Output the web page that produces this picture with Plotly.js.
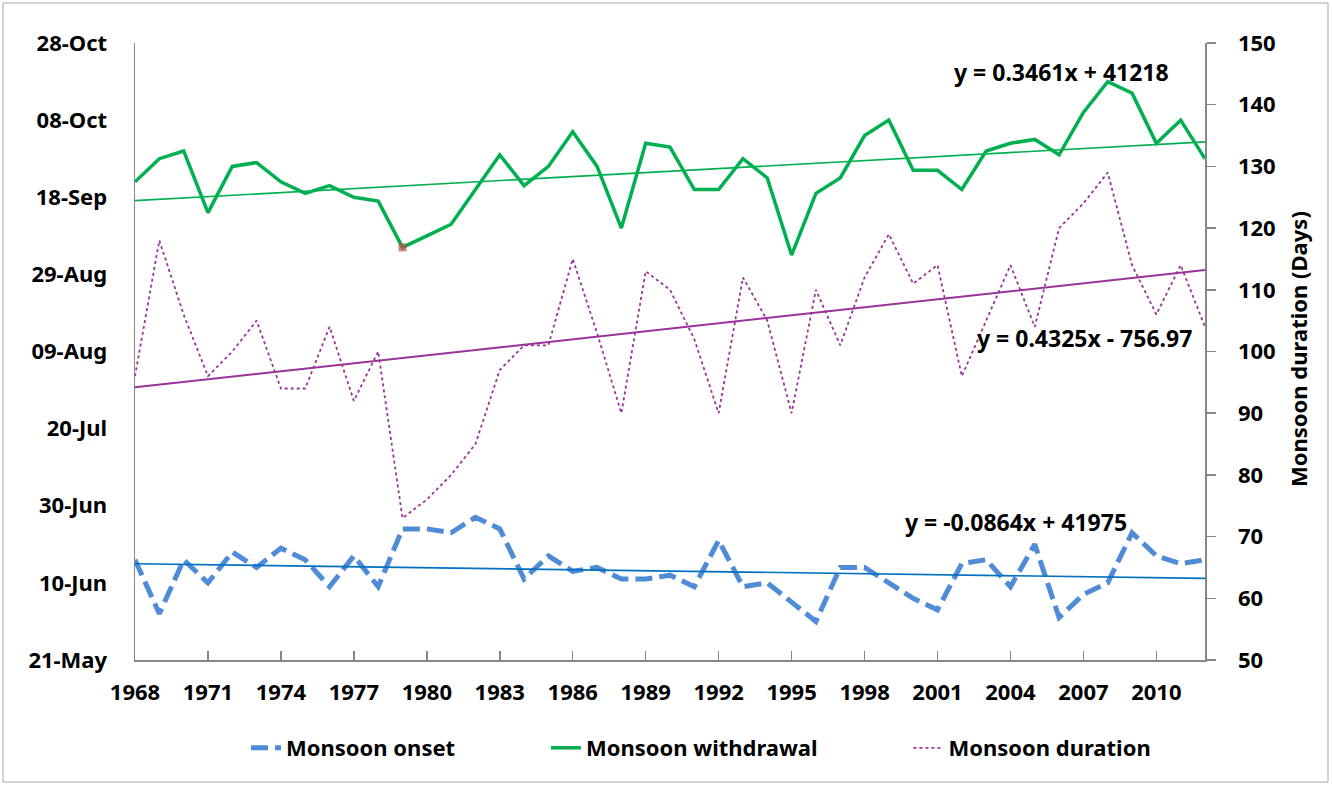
<!DOCTYPE html>
<html><head><meta charset="utf-8">
<script src="https://cdn.plot.ly/plotly-3.0.1.min.js"></script>
<style>html,body{margin:0;padding:0;background:#fff}</style>
</head><body><div id="chart" style="width:1332px;height:785px"></div>
<script>
const years = [1968,1969,1970,1971,1972,1973,1974,1975,1976,1977,1978,1979,1980,1981,1982,1983,1984,1985,1986,1987,1988,1989,1990,
  1991,1992,1993,1994,1995,1996,1997,1998,1999,2000,2001,2002,2003,2004,2005,2006,2007,2008,2009,2010,2011,2012];

// Monsoon onset dates (plotted on a common year)
const onsetDates = ['2014-06-16','2014-06-02','2014-06-16','2014-06-10','2014-06-18','2014-06-14','2014-06-19','2014-06-16','2014-06-09','2014-06-17',
  '2014-06-09','2014-06-24','2014-06-24','2014-06-23','2014-06-27','2014-06-24','2014-06-11','2014-06-17','2014-06-13','2014-06-14',
  '2014-06-11','2014-06-11','2014-06-12','2014-06-09','2014-06-21','2014-06-09','2014-06-10','2014-06-05','2014-05-31','2014-06-14',
  '2014-06-14','2014-06-10','2014-06-06','2014-06-03','2014-06-15','2014-06-16','2014-06-09','2014-06-20','2014-06-01','2014-06-07',
  '2014-06-10','2014-06-23','2014-06-17','2014-06-15','2014-06-16'];

// Monsoon withdrawal dates
const withdrawalDates = ['2014-09-22','2014-09-28','2014-09-30','2014-09-14','2014-09-26','2014-09-27','2014-09-22','2014-09-19','2014-09-21','2014-09-18',
  '2014-09-17','2014-09-05','2014-09-08','2014-09-11','2014-09-20','2014-09-29','2014-09-21','2014-09-26','2014-10-05','2014-09-26',
  '2014-09-10','2014-10-02','2014-10-01','2014-09-20','2014-09-20','2014-09-28','2014-09-23','2014-09-03','2014-09-19','2014-09-23',
  '2014-10-04','2014-10-08','2014-09-25','2014-09-25','2014-09-20','2014-09-30','2014-10-02','2014-10-03','2014-09-29','2014-10-10',
  '2014-10-18','2014-10-15','2014-10-02','2014-10-08','2014-09-28'];

// Monsoon duration (days)
const durationDays = [96,118,106,96,100,105,94,94,104,92,100,73,76,80,85,97,101,101,115,103,90,113,110,
  102,90,112,105,90,110,101,112,119,111,114,96,105,114,104,120,124,129,114,106,114,104];

const highlightYear = 1979;

// Trend-line equations printed on the chart (x = year; y = Excel date serial or days)
const onsetTrend = {slope: -0.0864, intercept: 41975, label: 'y = -0.0864x + 41975'};
const withdrawalTrend = {slope: 0.3461, intercept: 41218, label: 'y = 0.3461x + 41218'};
const durationTrend = {slope: 0.4325, intercept: -756.97, label: 'y = 0.4325x - 756.97'};

const seriesNames = ['Monsoon onset','Monsoon withdrawal','Monsoon duration'];
const rightAxisTitle = 'Monsoon duration (Days)';

function serialToDate(s){
  const d = new Date(Math.round((s - 25569) * 86400000));
  return d.toISOString().slice(0,19).replace('T',' ');
}
const trendDates = t => years.map(y => serialToDate(t.slope*y + t.intercept));
const trendVals = t => years.map(y => t.slope*y + t.intercept);

const FONT = '"Noto Sans", "Open Sans", sans-serif';
const AX = '#868686';
const NBSP = '\u00a0';
const pad = s => s + NBSP.repeat(15);

const traces = [
  {x: years, y: onsetDates, name: pad(seriesNames[0]), type:'scatter', mode:'lines',
   line:{color:'#4F8BD6', width:5, dash:'17px,7px'}},
  {x: years, y: withdrawalDates, name: pad(seriesNames[1]), type:'scatter', mode:'lines+markers',
   line:{color:'#00B050', width:3.5},
   marker:{symbol:'square', color:'#C0504D', size: years.map(y => y===highlightYear ? 8 : 0), line:{width:0}}},
  {x: years, y: durationDays, name: seriesNames[2], type:'scatter', mode:'lines', yaxis:'y2',
   line:{color:'#993399', width:1.8, dash:'3px,3px'}},
  {x: years, y: trendDates(onsetTrend), type:'scatter', mode:'lines', showlegend:false,
   line:{color:'#0070C0', width:1.6}},
  {x: years, y: trendDates(withdrawalTrend), type:'scatter', mode:'lines', showlegend:false,
   line:{color:'#00B050', width:1.6}},
  {x: years, y: trendVals(durationTrend), type:'scatter', mode:'lines', showlegend:false, yaxis:'y2',
   line:{color:'#993399', width:2}}
];

const tf = {family: FONT, size: 22, color:'#000', weight:'bold'};
const af = {family: FONT, size: 23, color:'#000', weight:'bold'};

const layout = {
  width:1332, height:785,
  margin:{l:135, r:127, t:43, b:125},
  paper_bgcolor:'#fff', plot_bgcolor:'#fff',
  showlegend:true,
  hovermode:false,
  xaxis:{range:[1968,2012], tickmode:'linear', tick0:1968, dtick:3, ticks:'inside', ticklen:9, tickcolor:AX, tickwidth:1.5,
    showline:true, linecolor:AX, linewidth:1.5, showgrid:false, zeroline:false, tickfont:tf, ticklabelstandoff:12},
  yaxis:{type:'date', range:['2014-05-21','2014-10-28'], tick0:'2014-05-21', dtick:20*86400000, tickformat:'%d-%b',
    ticks:'', showline:true, linecolor:AX, linewidth:1.5, showgrid:false, zeroline:false, tickfont:tf, ticklabelstandoff:22},
  yaxis2:{overlaying:'y', side:'right', range:[50,150], tickmode:'linear', tick0:50, dtick:10, ticks:'outside', ticklen:9,
    tickcolor:AX, tickwidth:1.5, showline:true, linecolor:AX, linewidth:1.5, showgrid:false, zeroline:false, tickfont:tf, ticklabelstandoff:18},
  legend:{orientation:'h', x:(246-135)/1070, xanchor:'left', y:-0.1426, yanchor:'middle', font:{family:FONT, size:22, color:'#000', weight:'bold'},
    bgcolor:'rgba(0,0,0,0)'},
  annotations:[
    {text: withdrawalTrend.label, xref:'paper', yref:'paper', x:(1061-135)/1070, y:(660-72)/617, xanchor:'center', yanchor:'middle', showarrow:false, font:af},
    {text: durationTrend.label, xref:'paper', yref:'paper', x:(1084-135)/1070, y:(660-338)/617, xanchor:'center', yanchor:'middle', showarrow:false, font:af},
    {text: onsetTrend.label, xref:'paper', yref:'paper', x:(1016-135)/1070, y:(660-522)/617, xanchor:'center', yanchor:'middle', showarrow:false, font:af},
    {text: rightAxisTitle, xref:'paper', yref:'paper', x:(1298-135)/1070, y:(660-349)/617, xanchor:'center', yanchor:'middle', showarrow:false, textangle:-90,
     font:{family:FONT, size:22, color:'#000', weight:'bold'}}
  ],
  shapes:[
    {type:'rect', xref:'paper', yref:'paper', x0:(3-135)/1070, x1:(1328-135)/1070, y0:(660-782)/617, y1:(660-3)/617,
     line:{color:'#A6A6A6', width:1}, fillcolor:'rgba(0,0,0,0)', layer:'below'}
  ]
};

Plotly.newPlot('chart', traces, layout, {staticPlot:true, displayModeBar:false});
</script>
</body></html>
